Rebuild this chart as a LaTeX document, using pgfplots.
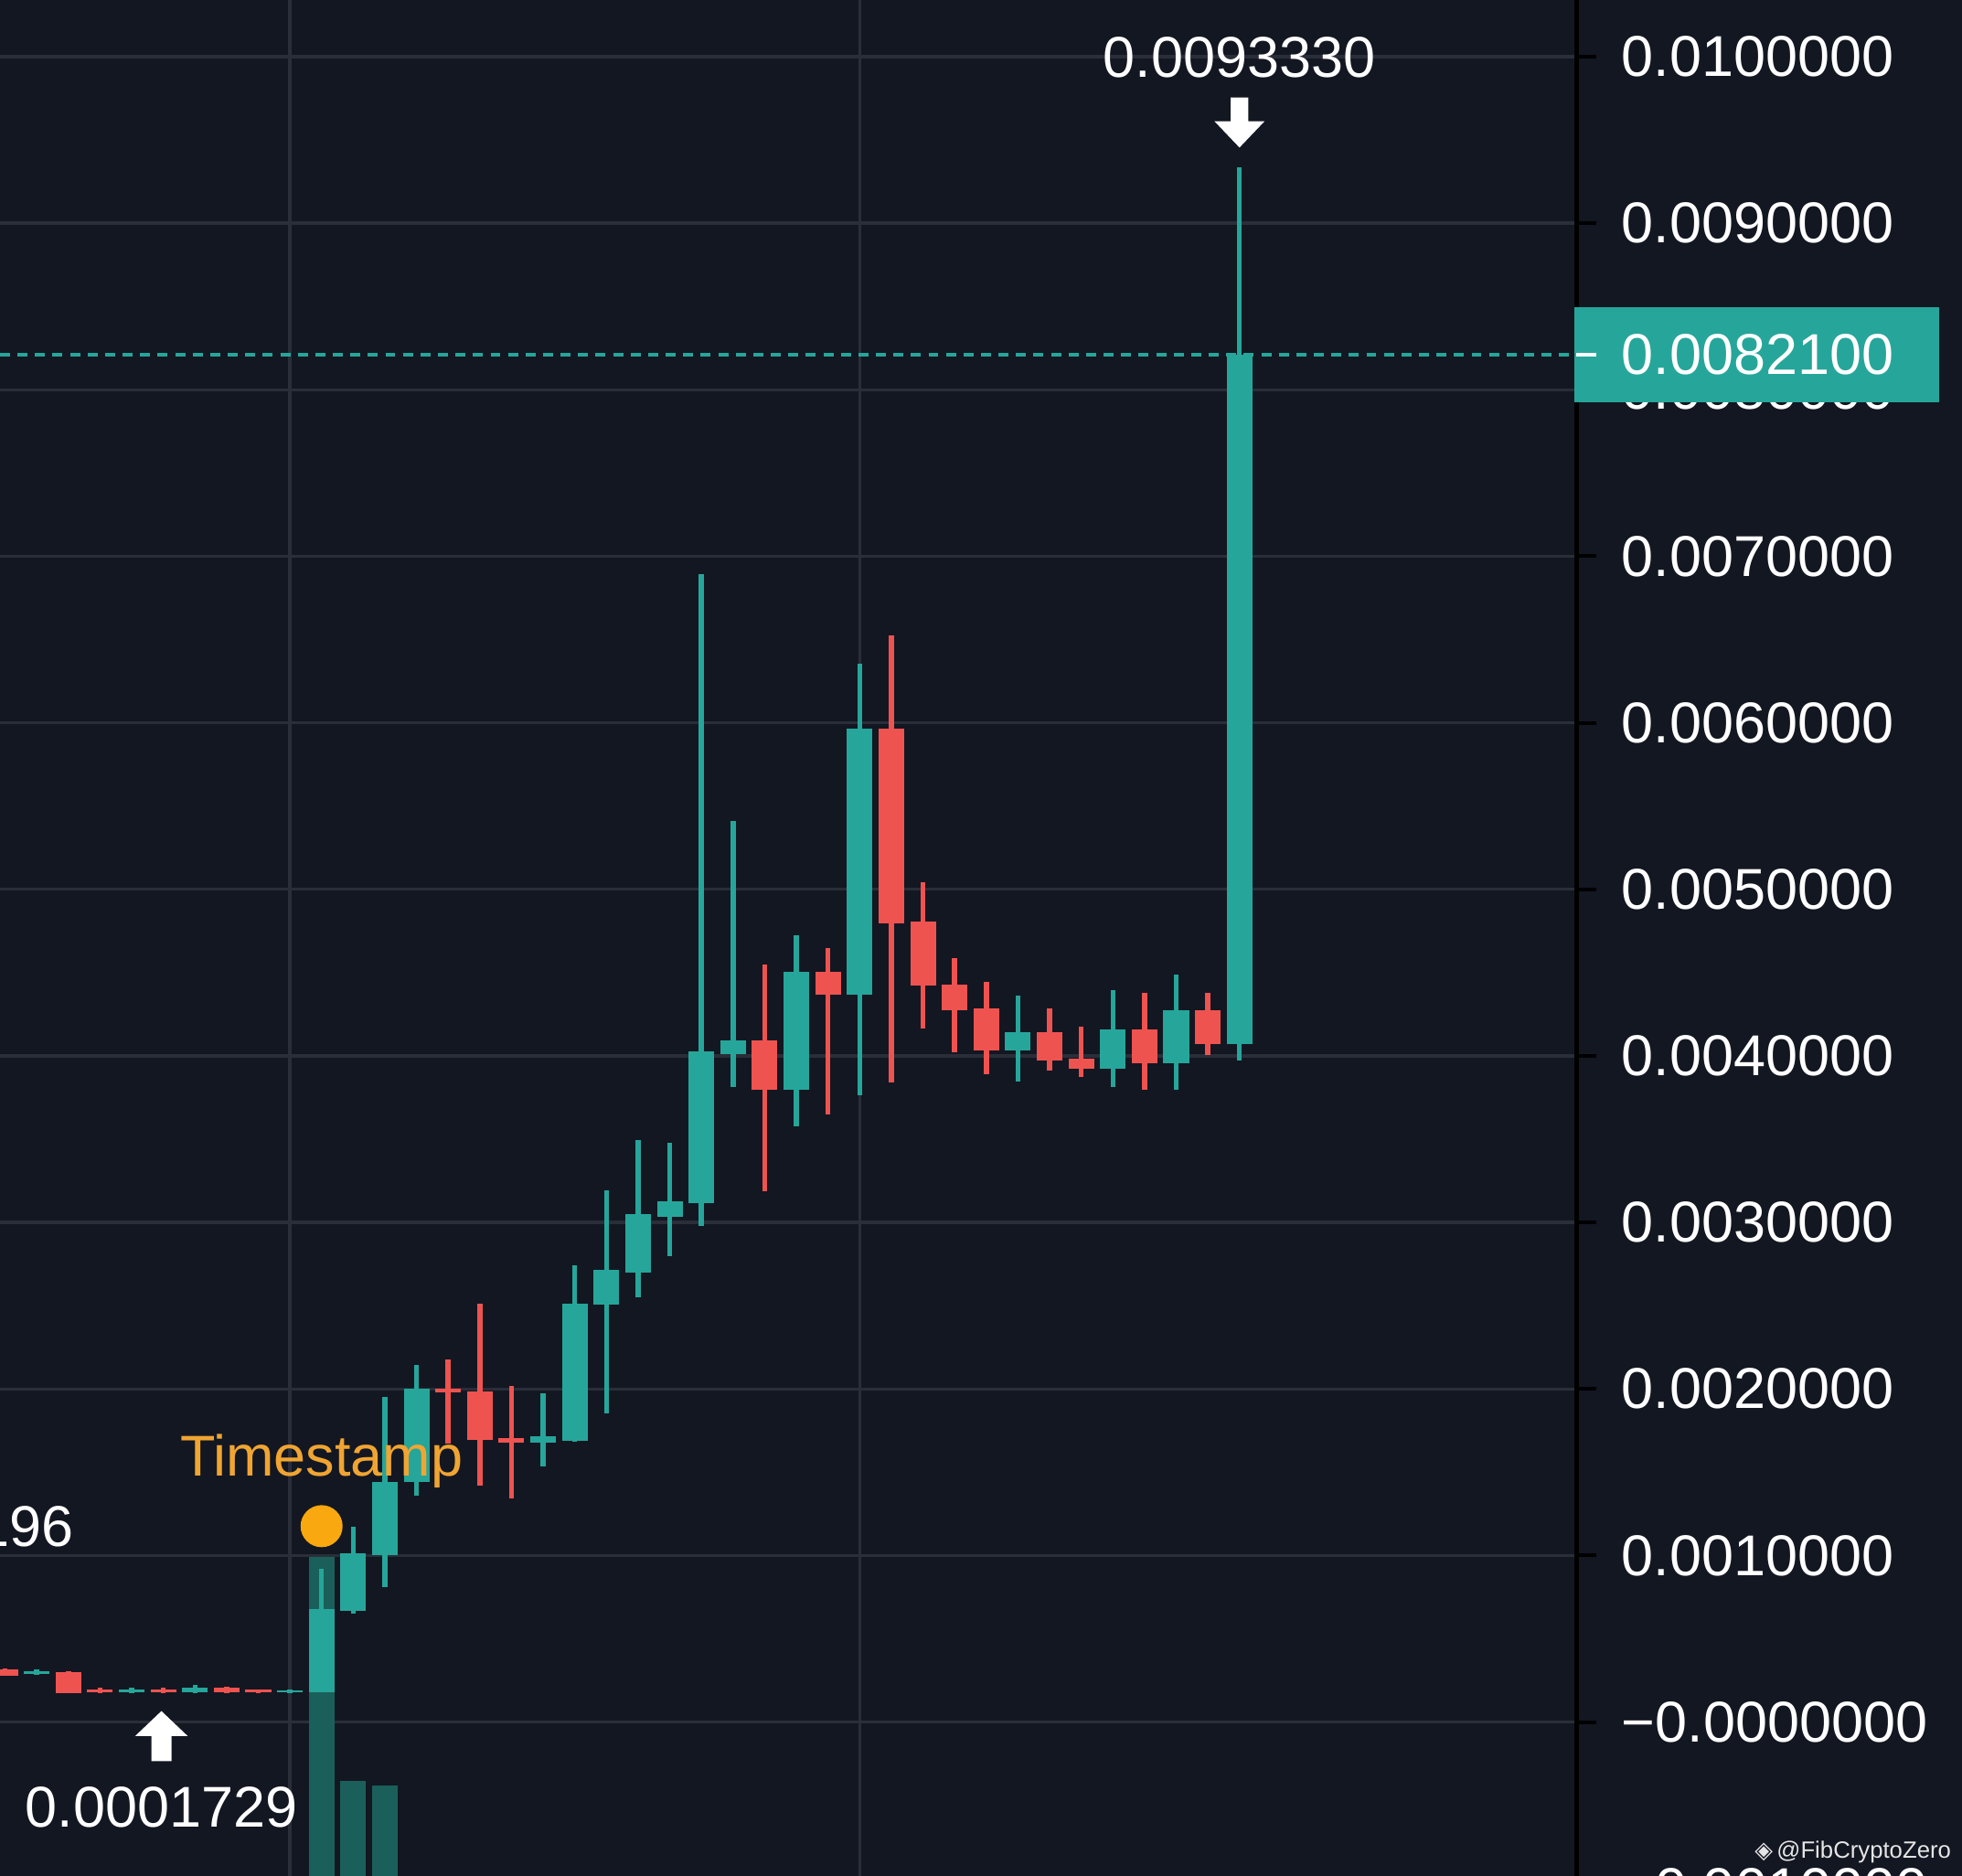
\documentclass[border=0pt]{standalone}
\usepackage{fontspec}
\setmainfont{Liberation Sans}
\newfontfamily\dejavu{DejaVu Sans}
\usepackage{pgfplots}
\usepackage{pgfplotstable}
\pgfplotsset{compat=1.18}

\definecolor{bg}{HTML}{131722}
\definecolor{gridc}{HTML}{2A2E39}
\definecolor{up}{HTML}{26A69A}
\definecolor{down}{HTML}{EF5350}
\definecolor{vol}{HTML}{1B5F5A}
\definecolor{stamp}{HTML}{F0A532}
\definecolor{dot}{HTML}{F9A80F}

% candles: index, open, high, low, close
\pgfplotstableread{
i o h l c
-9 0.0002870 0.0003180 0.0002850 0.0003060
-6 0.0001770 0.0002070 0.0001750 0.0001940
-4 0.0001770 0.0002230 0.0001750 0.0002080
-1 0.0001800 0.0001940 0.0001750 0.0001920
0 0.0001770 0.0009180 0.0001770 0.0006810
1 0.0006660 0.0011750 0.0006530 0.0010140
2 0.0010000 0.0019500 0.0008120 0.0014420
3 0.0014420 0.0021450 0.0013580 0.0020020
7 0.0016790 0.0019730 0.0015370 0.0017150
8 0.0016880 0.0027420 0.0016830 0.0025120
9 0.0025050 0.0031930 0.0018510 0.0027150
10 0.0027000 0.0034970 0.0025490 0.0030500
11 0.0030360 0.0034760 0.0028000 0.0031260
12 0.0031130 0.0068930 0.0029790 0.0040280
13 0.0040130 0.0054080 0.0038150 0.0040950
15 0.0037950 0.0047250 0.0035780 0.0045030
17 0.0043660 0.0063560 0.0037640 0.0059630
22 0.0040340 0.0043620 0.0038460 0.0041420
25 0.0039220 0.0043940 0.0038130 0.0041560
27 0.0039560 0.0044900 0.0037940 0.0042720
29 0.0040690 0.0093330 0.0039700 0.0082100
}\upcandles

\pgfplotstableread{
i o h l c
-10 0.0003180 0.0003200 0.0002750 0.0002780
-8 0.0003020 0.0003050 0.0001740 0.0001740
-7 0.0001960 0.0002070 0.0001750 0.0001770
-5 0.0001960 0.0002090 0.0001729 0.0001800
-3 0.0002080 0.0002100 0.0001760 0.0001770
-2 0.0001940 0.0001960 0.0001750 0.0001780
4 0.0020040 0.0021760 0.0016730 0.0019770
5 0.0019870 0.0025110 0.0014210 0.0016940
6 0.0017040 0.0020190 0.0013440 0.0016770
14 0.0040950 0.0045500 0.0031880 0.0037950
16 0.0045030 0.0046470 0.0036470 0.0043660
18 0.0059630 0.0065260 0.0038430 0.0047950
19 0.0048050 0.0050400 0.0041660 0.0044200
20 0.0044300 0.0045870 0.0040200 0.0042750
21 0.0042850 0.0044460 0.0038910 0.0040320
23 0.0041440 0.0042850 0.0039100 0.0039700
24 0.0039850 0.0041750 0.0038730 0.0039220
26 0.0041600 0.0043800 0.0037940 0.0039560
28 0.0042720 0.0043800 0.0040030 0.0040690
}\downcandles

% volume bars (top edge, on the price scale)
\pgfplotstableread{
i v
0 0.000992
1 -0.000353
2 -0.000380
}\volume

\pgfplotsset{
    candle/.style 2 args={only marks, mark=*, mark size=0pt,
        mark options={draw=none, fill=none},
        error bars/.cd, y dir=plus, y explicit, error mark=none,
        error bar style={solid, draw=#1, line width=#2}},
}

\begin{document}
\begin{tikzpicture}
\fill[bg] (0,0) rectangle (392pt,374.75pt);
\begin{axis}[
    at={(0,0)}, anchor=south west,
    scale only axis, width=315pt, height=374.75pt,
    xmin=-10.16, xmax=39.65,
    ymin=-0.000922, ymax=0.010340,
    separate axis lines,
    axis y line*=right,
    x axis line style={draw=none},
    y axis line style={draw=black, line width=0.75pt},
    xtick={-1,17}, xticklabels={},
    xtick style={draw=none},
    xmajorgrids, ymajorgrids,
    grid style={gridc, line width=0.6pt},
    ytick={0,0.001,0.002,0.003,0.004,0.005,0.006,0.007,0.008,0.009,0.010},
    yticklabels={{−0.0000000},{0.0010000},{0.0020000},{0.0030000},{0.0040000},
        {0.0050000},{0.0060000},{0.0070000},{0.0080000},{0.0090000},{0.0100000}},
    scaled y ticks=false,
    tick align=outside,
    major tick length=4pt,
    ytick style={black, line width=0.75pt},
    yticklabel style={anchor=west, inner sep=0pt, xshift=4.8pt,
        font=\fontsize{11.5}{13.8}\selectfont, text=white},
    clip mode=individual,
]
% volume
\addplot[candle={vol}{5.12pt}]
    table[x=i, y expr=-0.0012, y error plus expr=\thisrow{v}+0.0012] {\volume};
% current price line
\addplot[up, line width=0.75pt, dash pattern=on 2pt off 1.5pt]
    coordinates {(-10.16,0.00821) (39.65,0.00821)};
% wicks
\addplot[candle={up}{1pt}]
    table[x=i, y=l, y error plus expr=\thisrow{h}-\thisrow{l}] {\upcandles};
\addplot[candle={down}{1pt}]
    table[x=i, y=l, y error plus expr=\thisrow{h}-\thisrow{l}] {\downcandles};
% bodies
\addplot[candle={up}{5.12pt}]
    table[x=i, y=o, y error plus expr=\thisrow{c}-\thisrow{o}] {\upcandles};
\addplot[candle={down}{5.12pt}]
    table[x=i, y=c, y error plus expr=\thisrow{o}-\thisrow{c}] {\downcandles};

% annotations
\node[white, font=\fontsize{11.5}{13.8}\selectfont] at (axis cs:29,0.009995) {0.0093330};
\fill[white] (axis cs:29,0.009454) -- ++(-5pt,5.25pt) -- ++(3.25pt,0pt) -- ++(0pt,4.75pt)
    -- ++(3.5pt,0pt) -- ++(0pt,-4.75pt) -- ++(3.25pt,0pt) -- cycle;
\node[white, font=\fontsize{11.5}{13.8}\selectfont] at (axis cs:-5.06,-0.000514) {0.0001729};
\fill[white] (axis cs:-5.06,0.0000659) -- ++(-5.25pt,-5pt) -- ++(3.25pt,0pt) -- ++(0pt,-5pt)
    -- ++(4pt,0pt) -- ++(0pt,5pt) -- ++(3.25pt,0pt) -- cycle;
\node[stamp, font=\fontsize{11.5}{13.8}\selectfont] at (axis cs:0,0.001567) {Timestamp};
\fill[dot] (axis cs:0,0.001176) circle[radius=4.2pt];
\node[white, anchor=east, inner sep=0pt, font=\fontsize{11.5}{13.8}\selectfont]
    at (axis cs:-7.79,0.001176) {196};
\coordinate (cur) at (axis cs:39.65,0.00821);
\coordinate (low) at (axis cs:39.65,-0.001);
\end{axis}
% price box on the scale
\fill[up] ([xshift=-0.5pt,yshift=-9.5pt]cur) rectangle ([xshift=72.5pt,yshift=9.5pt]cur);
\draw[white, line width=0.75pt] (cur) -- ++(4pt,0pt);
\node[white, anchor=west, inner sep=0pt, font=\fontsize{11.5}{13.8}\selectfont]
    at ([xshift=8.8pt]cur) {0.0082100};
\node[white, anchor=west, inner sep=0pt, font=\fontsize{11.5}{13.8}\selectfont]
    at ([xshift=8.8pt]low) {−0.0010000};
\node[white!80!gray, anchor=east, inner sep=0pt, font=\fontsize{4.7}{5.6}\selectfont]
    at (390pt,4.75pt) {{\dejavu ◈}\,@FibCryptoZero};
\pgfresetboundingbox
\path (0,0) rectangle (392pt,374.75pt);
\end{tikzpicture}
\end{document}
